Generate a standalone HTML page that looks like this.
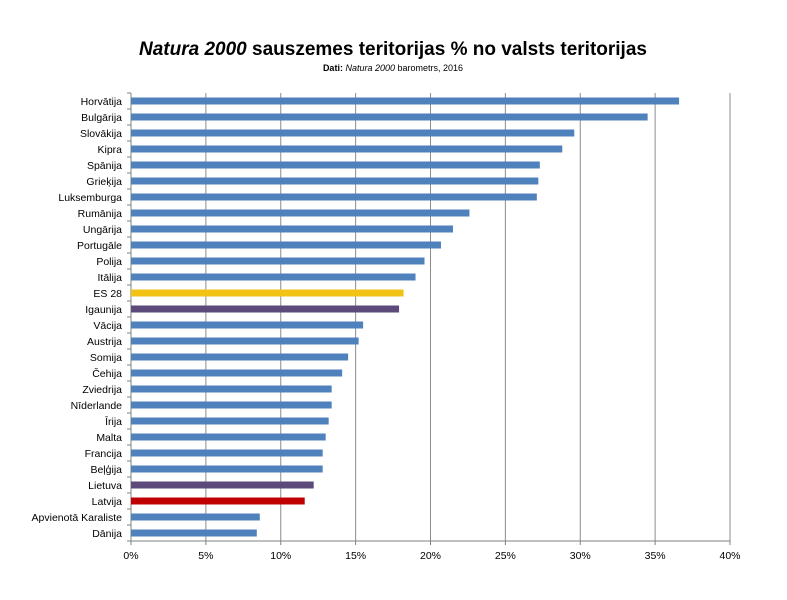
<!DOCTYPE html>
<html><head><meta charset="utf-8">
<style>
body{margin:0;background:#fff;}
svg{display:block;font-family:"Liberation Sans",sans-serif;}
</style></head>
<body>
<svg id="chart" width="787" height="600" xmlns="http://www.w3.org/2000/svg">
<rect width="787" height="600" fill="#fff"/>
<text x="393" y="55" text-anchor="middle" font-size="19" font-weight="bold" fill="#000"><tspan font-style="italic">Natura 2000</tspan> sauszemes teritorijas % no valsts teritorijas</text>
<text x="393" y="71" text-anchor="middle" font-size="9" fill="#000"><tspan font-weight="bold">Dati:</tspan> <tspan font-style="italic">Natura 2000</tspan> barometrs, 2016</text>
<g id="grid"></g><g id="bars"></g><g id="labels"></g><g id="xticks"></g>
</svg>
<script>
const categories=["Horvātija","Bulgārija","Slovākija","Kipra","Spānija","Grieķija","Luksemburga","Rumānija","Ungārija","Portugāle","Polija","Itālija","ES 28","Igaunija","Vācija","Austrija","Somija","Čehija","Zviedrija","Nīderlande","Īrija","Malta","Francija","Beļģija","Lietuva","Latvija","Apvienotā Karaliste","Dānija"];
const values=[36.6,34.5,29.6,28.8,27.3,27.2,27.1,22.6,21.5,20.7,19.6,19.0,18.2,17.9,15.5,15.2,14.5,14.1,13.4,13.4,13.2,13.0,12.8,12.8,12.2,11.6,8.6,8.4];
const tickValues=[0,5,10,15,20,25,30,35,40];
const tickLabels=["0%","5%","10%","15%","20%","25%","30%","35%","40%"];
const colors={"ES 28":"#f2c314","Igaunija":"#5b4a7a","Lietuva":"#5b4a7a","Latvija":"#c00000"};
const ns="http://www.w3.org/2000/svg";
const x0=131,x1=730,yTop=93,yBot=541,xMax=40;
const xs=v=>x0+(x1-x0)*v/xMax;
const band=(yBot-yTop)/categories.length;
const yc=i=>yTop+band*(i+0.5);
function mk(tag,attrs,parent){const e=document.createElementNS(ns,tag);for(const k in attrs)e.setAttribute(k,attrs[k]);document.getElementById(parent).appendChild(e);return e;}
tickValues.forEach((t,i)=>{
  const g=mk("line",{x1:xs(t),x2:xs(t),y1:yTop,y2:yBot+(i===0?0:0),stroke:i===0?"#808080":"#8c8c8c","stroke-width":1},"grid");
  
  
  const tm=mk("line",{x1:xs(t),x2:xs(t),y1:yBot,y2:yBot+4,stroke:"#808080"},"grid");
  
  
  const tx=mk("text",{x:xs(t),y:yBot+18,"text-anchor":"middle","font-size":10.5,fill:"#000"},"xticks");
  tx.textContent=tickLabels[i];
  
  
});
const ax=mk("line",{x1:x0,x2:x1,y1:yBot,y2:yBot,stroke:"#808080"},"grid");


for(let i=0;i<=categories.length;i++){
  const t=mk("line",{x1:x0-4,x2:x0,y1:yTop+band*i,y2:yTop+band*i,stroke:"#808080"},"grid");
  
  
}
categories.forEach((c,i)=>{
  const b=mk("rect",{x:x0,y:yc(i)-3.5,width:xs(values[i])-x0,height:7,fill:colors[c]||"#4f81bd"},"bars");
  
  
  const l=mk("text",{x:x0-9,y:yc(i)+4,"text-anchor":"end","font-size":10.5,fill:"#000"},"labels");
  l.textContent=c;
  
  
});
</script>
</body></html>
